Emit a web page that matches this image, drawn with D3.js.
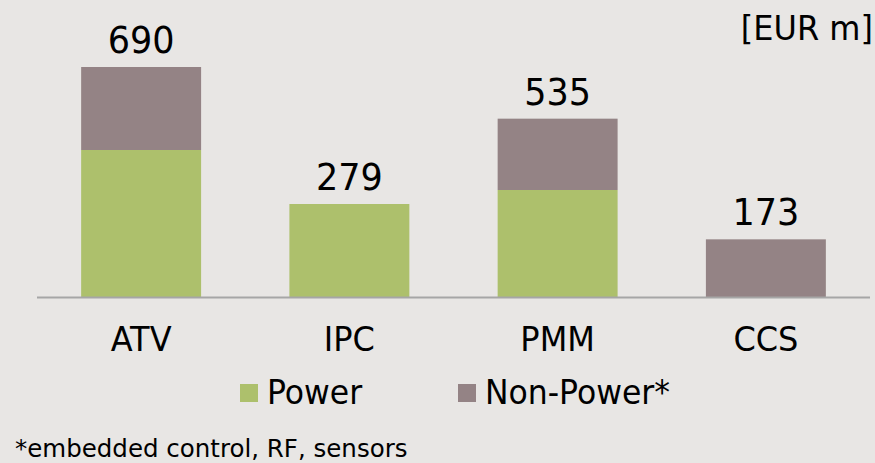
<!DOCTYPE html>
<html>
<head>
<meta charset="utf-8">
<script src="https://cdn.jsdelivr.net/npm/d3@7"></script>
<style>
  html, body { margin: 0; padding: 0; background: #e8e6e4; }
  svg { display: block; }
  text { font-family: "DejaVu Sans", Verdana, sans-serif; fill: #000; }
</style>
</head>
<body>
<svg id="chart" width="875" height="463"></svg>
<script>
var categories = ["ATV", "IPC", "PMM", "CCS"];
var power = [441, 279, 321, 0];
var nonPower = [249, 0, 214, 173];
var totals = [690, 279, 535, 173];
var seriesNames = ["Power", "Non-Power*"];
var unitLabel = "[EUR m]";
var footnote = "*embedded control, RF, sensors";

var colors = { "Power": "#adc06c", "Non-Power*": "#948385" };
var stretch = "scale(1,1.06)";

var svg = d3.select("#chart"),
    width = +svg.attr("width"),
    height = +svg.attr("height");

svg.append("rect")
    .attr("width", width)
    .attr("height", height)
    .attr("fill", "#e8e6e4");

var x = d3.scaleBand()
    .domain(categories)
    .range([37, 870])
    .paddingInner(0.424)
    .paddingOuter(0.212);

var y = d3.scaleLinear()
    .domain([0, d3.max(totals)])
    .range([297, 67]);

var rows = categories.map(function (c, i) {
  return { cat: c, "Power": power[i], "Non-Power*": nonPower[i], total: totals[i] };
});

var stack = d3.stack().keys(seriesNames)(rows);

var layer = svg.selectAll(".layer")
  .data(stack)
  .enter().append("g")
    .attr("class", "layer")
    .attr("fill", function (d) { return colors[d.key]; });

layer.selectAll("rect")
  .data(function (d) { return d; })
  .enter().append("rect")
    .attr("x", function (d) { return x(d.data.cat); })
    .attr("y", function (d) { return y(d[1]); })
    .attr("width", x.bandwidth())
    .attr("height", function (d) { return y(d[0]) - y(d[1]); });

// baseline
svg.append("line")
    .attr("x1", 37).attr("x2", 870)
    .attr("y1", y(0) + 0.5).attr("y2", y(0) + 0.5)
    .attr("stroke", "#a6a6a6")
    .attr("stroke-width", 2);

// totals above the bars
svg.selectAll(".total")
  .data(rows)
  .enter().append("text")
    .attr("class", "total")
    .attr("text-anchor", "middle")
    .style("font-size", "35px")
    .attr("transform", function (d) {
      return "translate(" + (x(d.cat) + x.bandwidth() / 2) + "," + (y(d.total) - 14) + ") " + stretch;
    })
    .text(function (d) { return d.total; });

// category labels
svg.selectAll(".cat")
  .data(categories)
  .enter().append("text")
    .attr("class", "cat")
    .attr("text-anchor", "middle")
    .style("font-size", "32px")
    .attr("transform", function (d) {
      return "translate(" + (x(d) + x.bandwidth() / 2) + ",351) " + stretch;
    })
    .text(function (d) { return d; });

// unit
svg.append("text")
    .attr("text-anchor", "end")
    .style("font-size", "32px")
    .attr("transform", "translate(873,40) " + stretch)
    .text(unitLabel);

// legend
var legendX = [240, 458];
var legend = svg.selectAll(".legend")
  .data(seriesNames)
  .enter().append("g")
    .attr("class", "legend")
    .attr("transform", function (d, i) { return "translate(" + legendX[i] + ",384)"; });

legend.append("rect")
    .attr("width", 18)
    .attr("height", 18)
    .attr("fill", function (d) { return colors[d]; });

legend.append("text")
    .style("font-size", "31.5px")
    .attr("transform", "translate(27,20) " + stretch)
    .text(function (d) { return d; });

// footnote
svg.append("text")
    .style("font-size", "24.5px")
    .attr("transform", "translate(15,457)")
    .text(footnote);
</script>
</body>
</html>
